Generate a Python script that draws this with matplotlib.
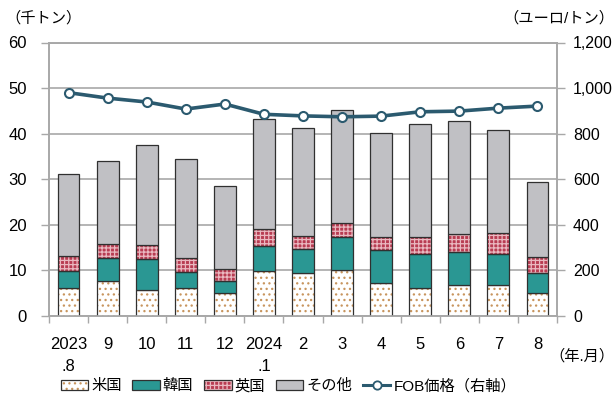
import matplotlib
matplotlib.use("Agg")
import matplotlib.pyplot as plt
from matplotlib.patches import Patch
from matplotlib.lines import Line2D
from matplotlib.ticker import FuncFormatter
import numpy as np

plt.rcParams['font.family'] = ['Liberation Sans', 'Noto Sans CJK JP', 'DejaVu Sans']

categories = ["2023\n.8", "9", "10", "11", "12", "2024\n.1", "2", "3", "4", "5", "6", "7", "8"]
usa   = [6.1, 7.6, 5.7, 6.1, 5.1, 9.9, 9.5, 10.2, 7.2, 6.1, 6.7, 6.8, 5.0]
korea = [3.8, 5.2, 6.7, 3.6, 2.6, 5.5, 5.2, 7.1, 7.2, 7.6, 7.3, 6.9, 4.4]
uk    = [3.3, 3.0, 3.1, 3.1, 2.7, 3.6, 2.8, 3.1, 3.0, 3.7, 3.9, 4.5, 3.5]
total = [31.1, 34.1, 37.5, 34.5, 28.6, 43.2, 41.2, 45.2, 40.1, 42.1, 42.8, 40.7, 29.5]
fob   = [980, 956, 939, 908, 930, 885, 878, 874, 877, 896, 899, 912, 921]

other = [t - a - b - c for t, a, b, c in zip(total, usa, korea, uk)]

C_US_HATCH = '#c8955e'
C_KOREA = '#2a9793'
C_UK = '#b83c52'
C_UK_HATCH = '#eab8c0'
C_OTHER = '#c0c0c4'
C_LINE = '#2b5a6f'
C_EDGE = '#303030'
C_GRID = '#a8a8a8'

plt.rcParams['hatch.linewidth'] = 0.9

fig = plt.figure(figsize=(6.16, 4.03), dpi=100)
ax = fig.add_axes([49/616, 1-316/403, (557-49)/616, (316-42.5)/403])

x = np.arange(len(categories))
w = 0.56
usa_a = np.array(usa); korea_a = np.array(korea); uk_a = np.array(uk); other_a = np.array(other)

# US: dotted
ax.bar(x, usa_a, w, color='white', edgecolor=C_US_HATCH, hatch='...', linewidth=0, zorder=3)
ax.bar(x, usa_a, w, fill=False, edgecolor=C_EDGE, linewidth=0.9, zorder=4)
# Korea
ax.bar(x, korea_a, w, bottom=usa_a, color=C_KOREA, edgecolor=C_EDGE, linewidth=0.9, zorder=4)
# UK checkered
b2 = usa_a + korea_a
ax.bar(x, uk_a, w, bottom=b2, color=C_UK, edgecolor=C_UK_HATCH, hatch='++++', linewidth=0, zorder=3)
ax.bar(x, uk_a, w, bottom=b2, fill=False, edgecolor=C_EDGE, linewidth=0.9, zorder=4)
# Other
b3 = b2 + uk_a
ax.bar(x, other_a, w, bottom=b3, color=C_OTHER, edgecolor=C_EDGE, linewidth=0.9, zorder=4)

ax.set_xlim(-0.5, len(categories) - 0.5)
ax.set_ylim(0, 60)
ax.set_yticks(range(0, 61, 10))
ax.yaxis.grid(True, color=C_GRID, linewidth=1.2, zorder=0)
ax.set_axisbelow(True)

ax.set_xticks(x)
ax.set_xticklabels(categories, fontsize=12, linespacing=1.6)
ax.set_xticks(np.arange(-0.5, len(categories), 1), minor=True)
ax.tick_params(axis='x', which='major', length=0, pad=15)
ax.tick_params(axis='x', which='minor', length=5, color=C_GRID, width=1.0, direction='out')
ax.tick_params(axis='y', length=6, color=C_GRID, width=1.0, labelsize=12, pad=10)

for s in ['left', 'right', 'bottom', 'top']:
    ax.spines[s].set_color(C_GRID)
    ax.spines[s].set_linewidth(1.2)

ax2 = ax.twinx()
ax2.set_ylim(0, 1200)
ax2.set_yticks(range(0, 1201, 200))
ax2.yaxis.set_major_formatter(FuncFormatter(lambda v, p: f"{int(v):,}"))
ax2.tick_params(axis='y', length=6, color=C_GRID, width=1.0, labelsize=11.5, pad=5.5)
for s in ['left', 'right', 'bottom', 'top']:
    ax2.spines[s].set_color(C_GRID)
    ax2.spines[s].set_linewidth(1.2)
ax2.plot(x, fob, color=C_LINE, linewidth=2.6, marker='o', markersize=6.5,
         markerfacecolor='white', markeredgecolor=C_LINE, markeredgewidth=1.5, zorder=5)

fig.text(0.008, 1 - 18/403, "（千トン）", fontsize=11, ha='left', va='center')
fig.text(0.997, 1 - 18/403, "（ユーロ/トン）", fontsize=11, ha='right', va='center')
fig.text(0.997, 1 - 356/403, "（年.月）", fontsize=11, ha='right', va='center')

h_us = (Patch(facecolor='white', edgecolor=C_US_HATCH, hatch='...', linewidth=0),
        Patch(fill=False, edgecolor=C_EDGE, linewidth=0.9))
h_kr = Patch(facecolor=C_KOREA, edgecolor=C_EDGE, linewidth=0.9)
h_uk = (Patch(facecolor=C_UK, edgecolor=C_UK_HATCH, hatch='++++', linewidth=0),
        Patch(fill=False, edgecolor=C_EDGE, linewidth=0.9))
h_ot = Patch(facecolor=C_OTHER, edgecolor=C_EDGE, linewidth=0.9)
h_ln = Line2D([], [], color=C_LINE, linewidth=2.2, marker='o', markersize=6,
              markerfacecolor='white', markeredgecolor=C_LINE, markeredgewidth=1.3)

fig.legend([h_us, h_kr, h_uk, h_ot, h_ln],
           ["米国", "韓国", "英国", "その他", "FOB価格（右軸）"],
           loc='center', bbox_to_anchor=(0.468, 1 - 386/403), ncol=5, frameon=False,
           fontsize=11, handlelength=1.8, handleheight=0.6, handletextpad=0.2,
           columnspacing=0.7, borderaxespad=0)

fig.savefig("out.png", dpi=100)
